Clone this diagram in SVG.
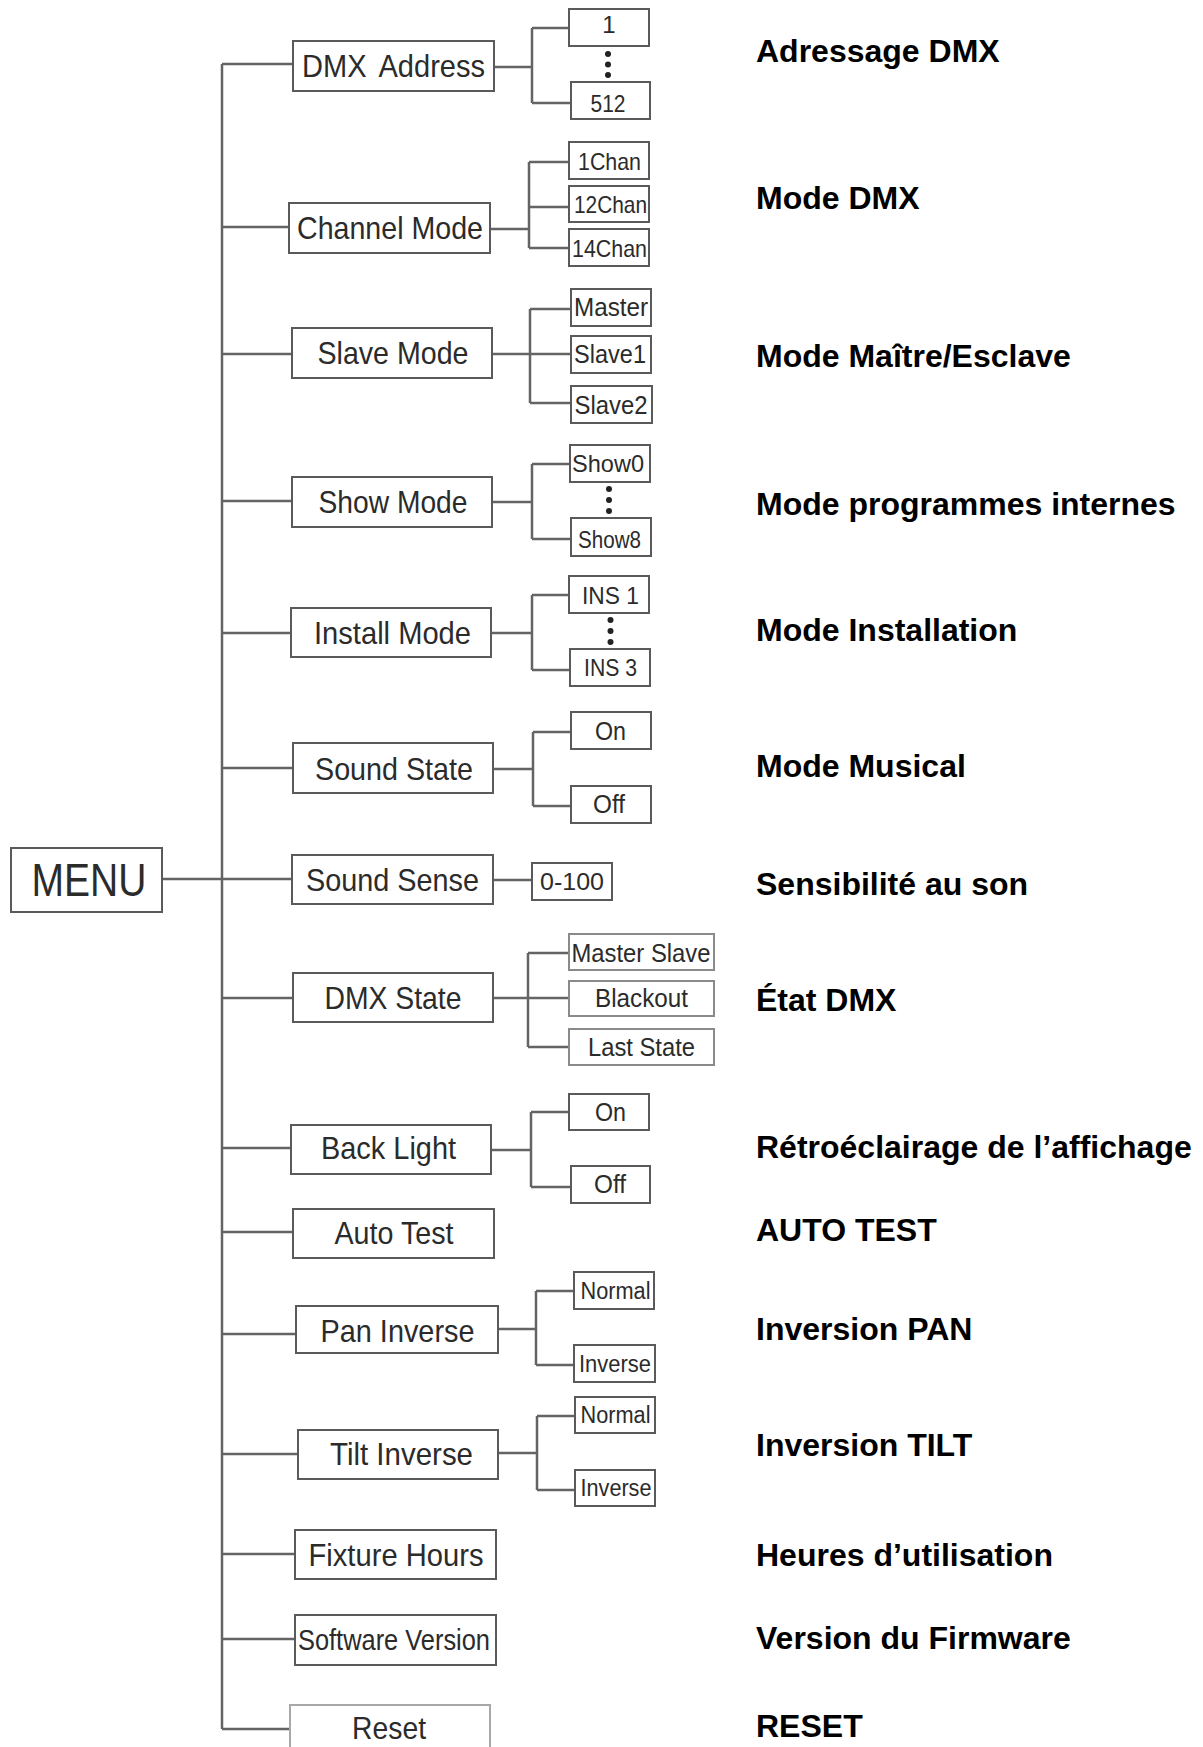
<svg xmlns="http://www.w3.org/2000/svg" width="1203" height="1747" viewBox="0 0 1203 1747">
<style>
.bx{fill:#fff;stroke:#5a5a5a;stroke-width:2}
.lt{fill:#fff;stroke:#a8a8a8;stroke-width:2}
.md{fill:#fff;stroke:#8a8a8a;stroke-width:2}
.t{font-family:"Liberation Sans",Arial,sans-serif;font-size:32px;fill:#2b2b2b;text-anchor:middle}
.s{font-family:"Liberation Sans",Arial,sans-serif;font-size:24px;fill:#2b2b2b;text-anchor:middle}
.r{font-family:"Liberation Sans",Arial,sans-serif;font-size:32px;font-weight:bold;fill:#000}
.c{fill:none;stroke:#646464;stroke-width:2.5}
.d{fill:#222}
</style>
<rect width="1203" height="1747" fill="#fff"/>

<g id="connectors">
<path class="c" d="M222,64 V1729"/>
<path class="c" d="M162,879 H292"/>
<path class="c" d="M222,64 H293 M222,227 H289 M222,354 H292 M222,501 H292 M222,633 H291 M222,768 H293 M222,998 H293 M222,1148 H291 M222,1232 H293 M222,1334 H296 M222,1454 H298 M222,1554 H295 M222,1639 H295 M222,1729 H290"/>
<path class="c" d="M494,67 H532 M532,28 V103 M532,28 H569 M532,103 H571"/>
<path class="c" d="M490,229 H529 M529,162 V248 M529,162 H569 M529,207 H569 M529,248 H569"/>
<path class="c" d="M492,354 H530 M530,309 V403 M530,309 H571 M530,354 H571 M530,403 H571"/>
<path class="c" d="M492,502 H532 M532,464 V539 M532,464 H570 M532,539 H571"/>
<path class="c" d="M491,633 H532 M532,595 V670 M532,595 H569 M532,670 H570"/>
<path class="c" d="M493,769 H533 M533,732 V806 M533,732 H571 M533,806 H571"/>
<path class="c" d="M493,880 H532"/>
<path class="c" d="M493,998 H528 M528,953 V1047 M528,953 H569 M528,998 H569 M528,1047 H569"/>
<path class="c" d="M491,1150 H531 M531,1112 V1187 M531,1112 H569 M531,1187 H571"/>
<path class="c" d="M498,1329 H536 M536,1291 V1365 M536,1291 H574 M536,1365 H574"/>
<path class="c" d="M498,1453 H537 M537,1416 V1490 M537,1416 H575 M537,1490 H575"/>
</g>

<g id="menu">
<rect class="bx" x="11" y="848" width="151" height="64"/>
<text class="t" x="89" y="896" style="font-size:46px" textLength="115" lengthAdjust="spacingAndGlyphs">MENU</text>
</g>

<g id="dmx-address">
<rect class="bx" x="293" y="41" width="201" height="50"/>
<text class="t" x="393.5" y="77" word-spacing="6" textLength="183" lengthAdjust="spacingAndGlyphs">DMX Address</text>
</g>
<g id="dmx-1"><rect class="bx" x="569" y="9" width="80" height="37"/><text class="s" x="609" y="33">1</text></g>
<g id="dmx-dots"><circle class="d" cx="608" cy="54" r="3"/><circle class="d" cx="608" cy="64.5" r="3"/><circle class="d" cx="608" cy="75" r="3"/></g>
<g id="dmx-512"><rect class="bx" x="571" y="82" width="79" height="37"/><text class="s" x="608" y="112" textLength="35" lengthAdjust="spacingAndGlyphs">512</text></g>

<g id="channel-mode">
<rect class="bx" x="289" y="203" width="201" height="50"/>
<text class="t" x="390" y="239" textLength="186" lengthAdjust="spacingAndGlyphs">Channel Mode</text>
</g>
<g id="ch1"><rect class="bx" x="569" y="142" width="80" height="37"/><text class="s" x="609.5" y="170" textLength="63" lengthAdjust="spacingAndGlyphs">1Chan</text></g>
<g id="ch12"><rect class="bx" x="569" y="186" width="80" height="36"/><text class="s" x="610.5" y="213" textLength="73" lengthAdjust="spacingAndGlyphs">12Chan</text></g>
<g id="ch14"><rect class="bx" x="569" y="229" width="80" height="37"/><text class="s" x="609.5" y="257" textLength="75" lengthAdjust="spacingAndGlyphs">14Chan</text></g>

<g id="slave-mode">
<rect class="bx" x="292" y="328" width="200" height="50"/>
<text class="t" x="393" y="364" textLength="151" lengthAdjust="spacingAndGlyphs">Slave Mode</text>
</g>
<g id="master"><rect class="bx" x="571" y="289" width="80" height="37"/><text class="s" x="611" y="316" style="font-size:26px" textLength="74" lengthAdjust="spacingAndGlyphs">Master</text></g>
<g id="slave1"><rect class="bx" x="571" y="336" width="80" height="37"/><text class="s" x="610" y="363" style="font-size:25px" textLength="72" lengthAdjust="spacingAndGlyphs">Slave1</text></g>
<g id="slave2"><rect class="bx" x="571" y="386" width="81" height="37"/><text class="s" x="611" y="414" style="font-size:25px" textLength="73" lengthAdjust="spacingAndGlyphs">Slave2</text></g>

<g id="show-mode">
<rect class="bx" x="292" y="477" width="200" height="50"/>
<text class="t" x="393" y="513" textLength="149" lengthAdjust="spacingAndGlyphs">Show Mode</text>
</g>
<g id="show0"><rect class="bx" x="570" y="445" width="80" height="37"/><text class="s" x="608" y="472" textLength="72" lengthAdjust="spacingAndGlyphs">Show0</text></g>
<g id="show-dots"><circle class="d" cx="609" cy="489" r="3"/><circle class="d" cx="609" cy="500" r="3"/><circle class="d" cx="609" cy="511" r="3"/></g>
<g id="show8"><rect class="bx" x="571" y="518" width="80" height="38"/><text class="s" x="609.5" y="548" style="font-size:23px" textLength="63" lengthAdjust="spacingAndGlyphs">Show8</text></g>

<g id="install-mode">
<rect class="bx" x="291" y="608" width="200" height="49"/>
<text class="t" x="392.5" y="644" textLength="157" lengthAdjust="spacingAndGlyphs">Install Mode</text>
</g>
<g id="ins1"><rect class="bx" x="569" y="576" width="80" height="37"/><text class="s" x="610.5" y="604" textLength="57" lengthAdjust="spacingAndGlyphs">INS 1</text></g>
<g id="ins-dots"><circle class="d" cx="610.5" cy="620" r="3"/><circle class="d" cx="610.5" cy="631" r="3"/><circle class="d" cx="610.5" cy="642" r="3"/></g>
<g id="ins3"><rect class="bx" x="570" y="649" width="80" height="37"/><text class="s" x="610.5" y="676" style="font-size:23px" textLength="53" lengthAdjust="spacingAndGlyphs">INS 3</text></g>

<g id="sound-state">
<rect class="bx" x="293" y="743" width="200" height="50"/>
<text class="t" x="394" y="780" textLength="158" lengthAdjust="spacingAndGlyphs">Sound State</text>
</g>
<g id="ss-on"><rect class="bx" x="571" y="712" width="80" height="37"/><text class="s" x="610.5" y="740" style="font-size:25px" textLength="31" lengthAdjust="spacingAndGlyphs">On</text></g>
<g id="ss-off"><rect class="bx" x="571" y="786" width="80" height="37"/><text class="s" x="609" y="813" style="font-size:25px" textLength="32" lengthAdjust="spacingAndGlyphs">Off</text></g>

<g id="sound-sense">
<rect class="bx" x="292" y="855" width="201" height="49"/>
<text class="t" x="392.5" y="891" textLength="173" lengthAdjust="spacingAndGlyphs">Sound Sense</text>
</g>
<g id="range"><rect class="bx" x="532" y="863" width="80" height="37"/><text class="s" x="572" y="890" textLength="64" lengthAdjust="spacingAndGlyphs">0-100</text></g>

<g id="dmx-state">
<rect class="bx" x="293" y="973" width="200" height="49"/>
<text class="t" x="393" y="1009" textLength="137" lengthAdjust="spacingAndGlyphs">DMX State</text>
</g>
<g id="master-slave"><rect class="md" x="569" y="934" width="145" height="36"/><text class="s" x="641" y="962" style="font-size:26px" textLength="139" lengthAdjust="spacingAndGlyphs">Master Slave</text></g>
<g id="blackout"><rect class="md" x="569" y="981" width="145" height="35"/><text class="s" x="641.5" y="1007" style="font-size:25px" textLength="93" lengthAdjust="spacingAndGlyphs">Blackout</text></g>
<g id="last-state"><rect class="md" x="569" y="1029" width="145" height="36"/><text class="s" x="641.5" y="1056" style="font-size:25px" textLength="107" lengthAdjust="spacingAndGlyphs">Last State</text></g>

<g id="back-light">
<rect class="bx" x="291" y="1125" width="200" height="49"/>
<text class="t" x="388.5" y="1159" textLength="135" lengthAdjust="spacingAndGlyphs">Back Light</text>
</g>
<g id="bl-on"><rect class="bx" x="569" y="1094" width="80" height="36"/><text class="s" x="610.5" y="1121" style="font-size:25px" textLength="31" lengthAdjust="spacingAndGlyphs">On</text></g>
<g id="bl-off"><rect class="bx" x="571" y="1166" width="79" height="37"/><text class="s" x="610" y="1193" style="font-size:25px" textLength="32" lengthAdjust="spacingAndGlyphs">Off</text></g>

<g id="auto-test">
<rect class="bx" x="293" y="1209" width="201" height="49"/>
<text class="t" x="394" y="1244" textLength="119" lengthAdjust="spacingAndGlyphs">Auto Test</text>
</g>

<g id="pan-inverse">
<rect class="bx" x="296" y="1306" width="202" height="47"/>
<text class="t" x="397.5" y="1342" textLength="154" lengthAdjust="spacingAndGlyphs">Pan Inverse</text>
</g>
<g id="pan-normal"><rect class="bx" x="574" y="1272" width="80" height="37"/><text class="s" x="615.5" y="1299" style="font-size:23px" textLength="70" lengthAdjust="spacingAndGlyphs">Normal</text></g>
<g id="pan-inv"><rect class="bx" x="574" y="1345" width="81" height="37"/><text class="s" x="615" y="1372" style="font-size:23px" textLength="72" lengthAdjust="spacingAndGlyphs">Inverse</text></g>

<g id="tilt-inverse">
<rect class="bx" x="298" y="1430" width="200" height="49"/>
<text class="t" x="401.5" y="1465" textLength="143" lengthAdjust="spacingAndGlyphs">Tilt Inverse</text>
</g>
<g id="tilt-normal"><rect class="bx" x="575" y="1397" width="80" height="36"/><text class="s" x="615.5" y="1423" style="font-size:23px" textLength="70" lengthAdjust="spacingAndGlyphs">Normal</text></g>
<g id="tilt-inv"><rect class="bx" x="575" y="1470" width="80" height="36"/><text class="s" x="616" y="1496" style="font-size:23px" textLength="71" lengthAdjust="spacingAndGlyphs">Inverse</text></g>

<g id="fixture-hours">
<rect class="bx" x="295" y="1530" width="201" height="49"/>
<text class="t" x="396" y="1566" textLength="175" lengthAdjust="spacingAndGlyphs">Fixture Hours</text>
</g>

<g id="software-version">
<rect class="bx" x="295" y="1615" width="201" height="50"/>
<text class="t" x="394" y="1650" style="font-size:29px" textLength="192" lengthAdjust="spacingAndGlyphs">Software Version</text>
</g>

<g id="reset">
<rect class="lt" x="290" y="1705" width="200" height="60"/>
<text class="t" x="389" y="1739" textLength="74" lengthAdjust="spacingAndGlyphs">Reset</text>
</g>

<g id="labels">
<text class="r" x="756" y="62">Adressage DMX</text>
<text class="r" x="756" y="209">Mode DMX</text>
<text class="r" x="756" y="367">Mode Maître/Esclave</text>
<text class="r" x="756" y="515">Mode programmes internes</text>
<text class="r" x="756" y="641">Mode Installation</text>
<text class="r" x="756" y="777">Mode Musical</text>
<text class="r" x="756" y="895">Sensibilité au son</text>
<text class="r" x="756" y="1011">État DMX</text>
<text class="r" x="756" y="1158">Rétroéclairage de l’affichage</text>
<text class="r" x="756" y="1241">AUTO TEST</text>
<text class="r" x="756" y="1340">Inversion PAN</text>
<text class="r" x="756" y="1456">Inversion TILT</text>
<text class="r" x="756" y="1566">Heures d’utilisation</text>
<text class="r" x="756" y="1649">Version du Firmware</text>
<text class="r" x="756" y="1737">RESET</text>
</g>
</svg>
